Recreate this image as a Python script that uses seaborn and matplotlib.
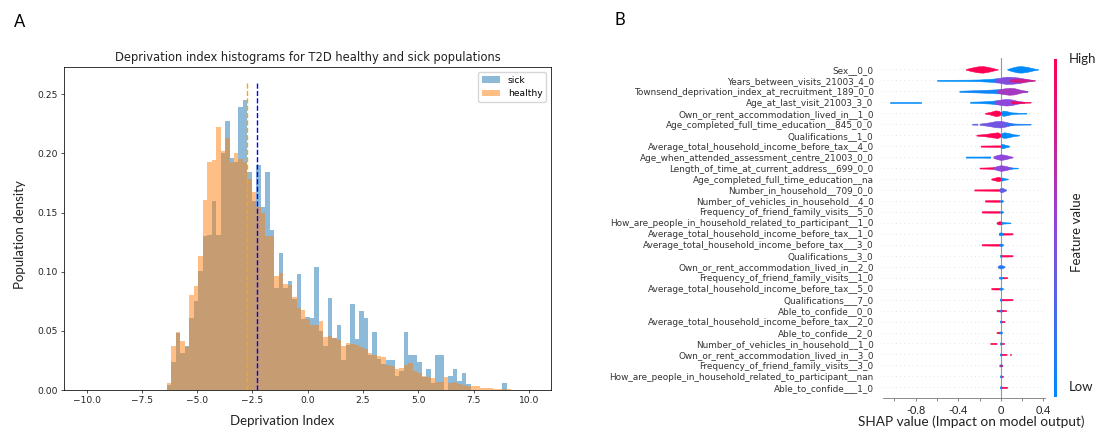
import numpy as np
import pandas as pd
import matplotlib
matplotlib.use("Agg")
import matplotlib.pyplot as plt
from matplotlib.colors import LinearSegmentedColormap
from matplotlib.cm import ScalarMappable
import seaborn as sns

# ---------------- Panel A data: histogram bin heights ----------------
bin_edges = np.linspace(-10, 10, 100)   # 99 bins over [-10, 10]
first_bin = 18                          # first non-empty bin (starts at -6.36)

healthy_density = [
    0.006, 0.037, 0.049, 0.041, 0.036, 0.080, 0.088, 0.113, 0.161, 0.193,
    0.194, 0.222, 0.202, 0.213, 0.193, 0.200, 0.195, 0.193, 0.178, 0.167,
    0.155, 0.150, 0.130, 0.130, 0.096, 0.099, 0.090, 0.089, 0.079, 0.069,
    0.068, 0.060, 0.055, 0.055, 0.058, 0.045, 0.046, 0.044, 0.042, 0.037,
    0.040, 0.039, 0.038, 0.036, 0.035, 0.031, 0.030, 0.029, 0.028, 0.021,
    0.020, 0.018, 0.019, 0.021, 0.023, 0.016, 0.014, 0.012, 0.011, 0.010,
    0.007, 0.007, 0.011, 0.006, 0.007, 0.005, 0.004, 0.0035, 0.0035, 0.003,
    0.002, 0.002, 0.0015, 0.001, 0.001, 0.001, 0.0005,
]
sick_density = [
    0.004, 0.024, 0.048, 0.031, 0.037, 0.061, 0.075, 0.101, 0.130, 0.131,
    0.160, 0.131, 0.200, 0.227, 0.196, 0.193, 0.239, 0.245, 0.184, 0.160,
    0.190, 0.155, 0.184, 0.135, 0.086, 0.116, 0.086, 0.092, 0.077, 0.098,
    0.060, 0.062, 0.061, 0.104, 0.050, 0.037, 0.078, 0.044, 0.055, 0.025,
    0.038, 0.073, 0.043, 0.067, 0.061, 0.030, 0.049, 0.026, 0.022, 0.025,
    0.025, 0.012, 0.016, 0.049, 0.030, 0.030, 0.024, 0.011, 0.018, 0.006,
    0.030, 0.030, 0.000, 0.012, 0.018, 0.008, 0.014, 0.005, 0.000, 0.000,
    0.000, 0.000, 0.000, 0.000, 0.000, 0.006, 0.000,
]
healthy_mean = -2.74
sick_mean = -2.27

# ---------------- Panel B data: SHAP summary (beeswarm outlines) ----------------
feature_names = [
    "Sex__0_0",
    "Years_between_visits_21003_4_0",
    "Townsend_deprivation_index_at_recruitment_189_0_0",
    "Age_at_last_visit_21003_3_0",
    "Own_or_rent_accommodation_lived_in__1_0",
    "Age_completed_full_time_education__845_0_0",
    "Qualifications__1_0",
    "Average_total_household_income_before_tax__4_0",
    "Age_when_attended_assessment_centre_21003_0_0",
    "Length_of_time_at_current_address__699_0_0",
    "Age_completed_full_time_education__na",
    "Number_in_household__709_0_0",
    "Number_of_vehicles_in_household__4_0",
    "Frequency_of_friend_family_visits__5_0",
    "How_are_people_in_household_related_to_participant__1_0",
    "Average_total_household_income_before_tax__1_0",
    "Average_total_household_income_before_tax___3_0",
    "Qualifications__3_0",
    "Own_or_rent_accommodation_lived_in__2_0",
    "Frequency_of_friend_family_visits__1_0",
    "Average_total_household_income_before_tax__5_0",
    "Qualifications___7_0",
    "Able_to_confide__0_0",
    "Average_total_household_income_before_tax__2_0",
    "Able_to_confide__2_0",
    "Number_of_vehicles_in_household__1_0",
    "Own_or_rent_accommodation_lived_in__3_0",
    "Frequency_of_friend_family_visits__3_0",
    "How_are_people_in_household_related_to_participant__nan",
    "Able_to_confide___1_0",
]

# each blob: feature row, feature value (0 low .. 1 high), SHAP values along it, point density there
blob_row = [0, 0,
            1, 1, 1,
            2, 2,
            3, 3, 3, 3,
            4, 4,
            5, 5, 5,
            6, 6,
            7, 7,
            8, 8,
            9, 9, 9,
            10, 10,
            11, 11,
            12, 12,
            13, 13,
            14, 14,
            15, 15,
            16, 16,
            17, 17,
            18,
            19, 19,
            20, 20,
            21, 21,
            22, 22, 22,
            23, 23,
            24, 24,
            25, 25, 25,
            26, 26, 26,
            27, 27,
            28, 28,
            29, 29]
blob_value = [1.0, 0.0,
              0.0, 0.45, 0.8,
              0.05, 0.6,
              0.0, 0.0, 0.5, 1.0,
              1.0, 0.0,
              0.3, 0.4, 0.1,
              1.0, 0.0,
              1.0, 0.0,
              0.0, 0.5,
              1.0, 0.5, 0.0,
              1.0, 0.0,
              1.0, 0.3,
              1.0, 0.0,
              1.0, 0.0,
              1.0, 0.0,
              0.0, 1.0,
              1.0, 0.0,
              0.0, 1.0,
              0.15,
              0.0, 1.0,
              1.0, 0.0,
              0.0, 1.0,
              1.0, 0.0, 1.0,
              0.0, 1.0,
              1.0, 0.0,
              1.0, 0.0, 1.0,
              0.0, 1.0, 1.0,
              0.0, 1.0,
              0.0, 1.0,
              0.0, 1.0]
blob_shap = [
    [-0.33, -0.28, -0.22, -0.17, -0.12, -0.06, -0.03], [0.06, 0.10, 0.15, 0.19, 0.25, 0.31, 0.35],
    [-0.60, -0.45, -0.30, -0.20, -0.10, -0.03], [-0.06, 0.0, 0.05, 0.10, 0.17, 0.24, 0.30], [0.08, 0.14, 0.20, 0.26, 0.32],
    [-0.39, -0.30, -0.20, -0.10, 0.0, 0.10, 0.20, 0.25], [-0.04, 0.02, 0.08, 0.13, 0.19, 0.25],
    [-1.04, -0.75], [-0.29, -0.20, -0.10, -0.02], [-0.06, 0.0, 0.05, 0.10, 0.16, 0.22], [0.10, 0.20, 0.28],
    [-0.15, -0.10, -0.05, -0.02, 0.0], [0.0, 0.02, 0.05, 0.10, 0.17, 0.24],
    [-0.27, -0.22], [-0.20, -0.12, -0.05, 0.0, 0.05, 0.11], [0.05, 0.15, 0.28],
    [-0.23, -0.15, -0.08, -0.03, 0.0], [0.0, 0.03, 0.07, 0.12, 0.17],
    [-0.19, -0.10, -0.03, 0.0], [0.0, 0.02, 0.05, 0.08],
    [-0.33, -0.20, -0.10], [-0.07, -0.03, 0.0, 0.04, 0.08, 0.11],
    [-0.20, -0.12, -0.06], [-0.07, -0.03, 0.0, 0.04, 0.08, 0.11], [0.08, 0.16],
    [-0.09, -0.05, -0.02, 0.0], [0.0, 0.02, 0.04, 0.065],
    [-0.25, -0.15, -0.05, 0.0], [-0.01, 0.01, 0.03, 0.05],
    [-0.15, -0.08, -0.01], [-0.005, 0.005, 0.02],
    [-0.18, -0.10, -0.01], [-0.005, 0.005, 0.02],
    [-0.04, -0.02, 0.0, 0.01], [0.0, 0.03, 0.09],
    [-0.02, 0.0, 0.02], [0.02, 0.06, 0.11],
    [-0.18, -0.10, -0.03, 0.0], [-0.01, 0.0, 0.02],
    [-0.01, 0.0, 0.01], [0.01, 0.06, 0.11],
    [-0.03, -0.01, 0.01, 0.035],
    [-0.02, 0.0, 0.02], [0.02, 0.04, 0.06],
    [-0.09, -0.05, -0.01], [-0.01, 0.0, 0.02],
    [-0.01, 0.0, 0.01], [0.01, 0.06, 0.11],
    [-0.04, -0.02, 0.0], [-0.01, 0.0, 0.02], [0.01, 0.05],
    [-0.01, 0.0, 0.01], [0.01, 0.02, 0.035],
    [-0.04, -0.02, 0.0], [-0.01, 0.0, 0.01],
    [-0.10, -0.07, -0.04], [-0.01, 0.0, 0.01], [0.01, 0.03],
    [-0.01, 0.0, 0.01], [0.01, 0.03, 0.055], [0.09, 0.10],
    [-0.015, 0.0, 0.015], [-0.01, 0.01],
    [-0.01, 0.0, 0.01], [0.01, 0.02],
    [-0.01, 0.0, 0.01], [0.01, 0.04, 0.06],
]
blob_density = [
    [0.03, 0.15, 0.27, 0.30, 0.22, 0.08, 0.02], [0.03, 0.15, 0.27, 0.30, 0.22, 0.08, 0.02],
    [0.04, 0.05, 0.06, 0.08, 0.13, 0.20], [0.12, 0.25, 0.33, 0.32, 0.25, 0.12, 0.04], [0.06, 0.16, 0.14, 0.07, 0.03],
    [0.05, 0.08, 0.11, 0.15, 0.20, 0.15, 0.06, 0.03], [0.10, 0.25, 0.32, 0.28, 0.12, 0.03],
    [0.06, 0.06], [0.05, 0.07, 0.12, 0.20], [0.12, 0.25, 0.30, 0.26, 0.12, 0.04], [0.08, 0.05, 0.03],
    [0.03, 0.12, 0.26, 0.22, 0.08], [0.10, 0.24, 0.20, 0.08, 0.04, 0.03],
    [0.04, 0.05], [0.05, 0.15, 0.28, 0.30, 0.20, 0.05], [0.10, 0.05, 0.03],
    [0.04, 0.10, 0.20, 0.26, 0.10], [0.15, 0.26, 0.20, 0.08, 0.03],
    [0.05, 0.06, 0.07, 0.06], [0.20, 0.18, 0.10, 0.03],
    [0.05, 0.05, 0.06], [0.08, 0.20, 0.26, 0.20, 0.10, 0.03],
    [0.04, 0.06, 0.08], [0.08, 0.20, 0.26, 0.20, 0.10, 0.03], [0.05, 0.03],
    [0.04, 0.14, 0.20, 0.10], [0.15, 0.12, 0.06, 0.03],
    [0.05, 0.06, 0.07, 0.07], [0.15, 0.20, 0.12, 0.03],
    [0.06, 0.07, 0.07], [0.10, 0.10, 0.04],
    [0.06, 0.07, 0.07], [0.10, 0.10, 0.04],
    [0.06, 0.14, 0.14, 0.05], [0.10, 0.06, 0.03],
    [0.10, 0.14, 0.08], [0.07, 0.07, 0.05],
    [0.06, 0.07, 0.08, 0.06], [0.10, 0.12, 0.06],
    [0.08, 0.10, 0.06], [0.07, 0.07, 0.05],
    [0.06, 0.16, 0.14, 0.04],
    [0.06, 0.10, 0.05], [0.06, 0.06, 0.04],
    [0.06, 0.08, 0.07], [0.10, 0.10, 0.04],
    [0.08, 0.10, 0.06], [0.07, 0.07, 0.05],
    [0.06, 0.08, 0.06], [0.08, 0.10, 0.05], [0.06, 0.04],
    [0.08, 0.10, 0.06], [0.06, 0.06, 0.04],
    [0.06, 0.08, 0.06], [0.08, 0.10, 0.06],
    [0.05, 0.06, 0.05], [0.08, 0.10, 0.06], [0.06, 0.04],
    [0.08, 0.10, 0.06], [0.06, 0.06, 0.04], [0.04, 0.04],
    [0.08, 0.10, 0.06], [0.05, 0.05],
    [0.08, 0.10, 0.06], [0.05, 0.04],
    [0.08, 0.10, 0.06], [0.06, 0.06, 0.04],
]

# ---------------- figure ----------------
W, H = 1112, 429
fig = plt.figure(figsize=(W / 100, H / 100), dpi=100)


def box(left, top, right, bottom):
    return [left / W, 1 - bottom / H, (right - left) / W, (bottom - top) / H]


# ---- Panel A ----
plt.rcParams["axes.linewidth"] = 0.55
ax1 = fig.add_axes(box(64.4, 67, 551, 390))
centers = (bin_edges[:-1] + bin_edges[1:]) / 2
sick_df = pd.DataFrame({"x": centers[first_bin:first_bin + len(sick_density)], "w": sick_density})
healthy_df = pd.DataFrame({"x": centers[first_bin:first_bin + len(healthy_density)], "w": healthy_density})
edges = list(bin_edges)
sns.histplot(data=sick_df, x="x", weights="w", bins=edges, stat="count", element="bars",
             color="C0", alpha=0.5, linewidth=0, label="sick", ax=ax1)
sns.histplot(data=healthy_df, x="x", weights="w", bins=edges, stat="count", element="bars",
             color="C1", alpha=0.5, linewidth=0, label="healthy", ax=ax1)
ax1.vlines(healthy_mean, 0, 0.26, colors="orange", linestyles="dashed", lw=1.0)
ax1.vlines(sick_mean, 0, 0.26, colors="b", linestyles="dashed", lw=1.0)
ax1.set_xlim(-11, 11)
ax1.set_ylim(0, 0.273)
ax1.set_xticks([-10, -7.5, -5, -2.5, 0, 2.5, 5, 7.5, 10])
ax1.set_yticks([0, 0.05, 0.10, 0.15, 0.20, 0.25])
ax1.set_xlabel("")
ax1.set_ylabel("")
ax1.tick_params(labelsize=6.6, length=2.3, width=0.55, pad=2.3, colors="#222222")
ax1.set_title("Deprivation index histograms for T2D healthy and sick populations",
              fontsize=8.3, pad=4, color="#222222")
ax1.legend(loc="upper right", fontsize=6.6, handlelength=2.0, borderaxespad=0.55)

fig.text(20.5 / W, 1 - 235 / H, "Population density", rotation=90, ha="center", va="center",
         fontsize=9.5, family="Lato", color="#222222")
fig.text(282 / W, 1 - 421 / H, "Deprivation Index", ha="center", va="center",
         fontsize=9.5, family="Lato", color="#222222")
fig.text(20 / W, 1 - 22 / H, "A", ha="center", va="center", fontsize=12, family="Lato")
fig.text(620 / W, 1 - 20 / H, "B", ha="center", va="center", fontsize=12, family="Lato")

# ---- Panel B ----
red_blue = LinearSegmentedColormap.from_list("red_blue", ["#008bfb", "#8e46dc", "#ff0052"])
ax2 = fig.add_axes(box(883.3, 58.4, 1045, 398.3))
n_feat = len(feature_names)
for i in range(n_feat):
    ax2.axhline(i, color="#cccccc", lw=0.5, dashes=(1, 5), zorder=-1)
ax2.axvline(0, color="#999999", lw=0.8, zorder=-1)
for row, fv, xs, ws in zip(blob_row, blob_value, blob_shap, blob_density):
    xs = np.asarray(xs)
    ws = np.asarray(ws)
    ax2.fill_between(xs, row - ws, row + ws, color=red_blue(fv), lw=0.4, edgecolor=red_blue(fv))
ax2.set_ylim(n_feat, -1)
ax2.set_xlim(-1.105, 0.415)
ax2.set_yticks(range(n_feat))
ax2.set_yticklabels(feature_names)
ax2.set_xticks([-0.8, -0.4, 0, 0.4])
ax2.set_xticklabels(["-0.8", "-0.4", "0", "0.4"], family="Lato")
ax2.set_xticks([-1.0, -0.6, -0.2, 0.2], minor=True)
ax2.tick_params(axis="y", length=0, pad=7, labelsize=6.4, labelcolor="#333333")
ax2.tick_params(axis="x", which="both", length=2.5, width=0.5, pad=2.5, labelsize=7.8,
                colors="#555555", labelcolor="#222222")
sns.despine(ax=ax2, left=True)
ax2.spines["bottom"].set_color("#777777")
ax2.spines["bottom"].set_linewidth(0.6)
fig.text(971 / W, 1 - 421.5 / H, "SHAP value (Impact on model output)", ha="center", va="center",
         fontsize=9.8, family="Lato", color="#222222")

cax = fig.add_axes(box(1053.5, 59, 1057, 397))
cb = fig.colorbar(ScalarMappable(cmap=red_blue), cax=cax)
cb.set_ticks([])
cb.outline.set_visible(False)
fig.text(1069 / W, 1 - 59 / H, "High", ha="left", va="center", fontsize=9.5, family="Lato",
         color="#222222")
fig.text(1069 / W, 1 - 387 / H, "Low", ha="left", va="center", fontsize=9.5, family="Lato",
         color="#222222")
fig.text(1077 / W, 1 - 232 / H, "Feature value", rotation=90, ha="center", va="center",
         fontsize=9.5, family="Lato", color="#222222")

fig.savefig("out.png", dpi=100)
